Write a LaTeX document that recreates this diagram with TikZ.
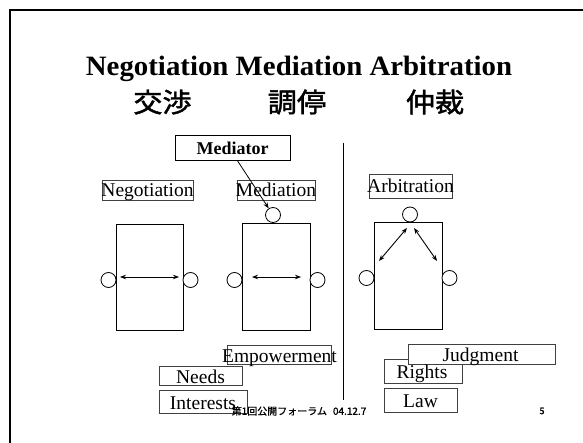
\documentclass[tikz,border=0pt]{standalone}
\usepackage{fontspec}
\setmainfont{Liberation Serif}
\newfontfamily\jp[FakeBold=1.5]{Noto Sans CJK JP}
\newfontfamily\jpb[FakeBold=1.2]{Noto Sans CJK JP}
\usetikzlibrary{arrows.meta}
\tikzset{
  lblbox/.style={draw=black!75, line width=0.6pt, fill=white, inner sep=0pt},
  lbl/.style={anchor=base, inner sep=0pt, font=\fontsize{19.5}{20}\selectfont},
  jtitle/.style={inner sep=0pt, font=\fontsize{27}{28}\selectfont\jp},
  room/.style={draw=black, line width=0.8pt, inner sep=0pt, minimum width=68pt, minimum height=107pt},
  party/.style={draw=black, line width=0.8pt, circle, inner sep=0pt, minimum size=15pt, fill=white},
  dbl/.style={{Stealth[length=6pt,width=4.5pt]}-{Stealth[length=6pt,width=4.5pt]}, line width=0.9pt},
  single/.style={-{Stealth[length=6pt,width=4.5pt]}, line width=0.8pt},
}
\begin{document}
\begin{tikzpicture}[x=1pt,y=-1pt]
\useasboundingbox (0,0) rectangle (583,443);
% frame
\coordinate (fbl) at (10,443);
\coordinate (ftl) at (10,10);
\coordinate (ftr) at (583,10);
\draw[line width=2pt] (fbl) -- (ftl) -- (ftr);
% title
\node[anchor=base, inner sep=0pt, font=\fontsize{28}{30}\selectfont\bfseries] (title) at (299,76)
  {\scalebox{1.03}[1]{Negotiation Mediation Arbitration}};
\node[jtitle] (jneg) at (162.5,102) {\scalebox{1.08}[1]{交渉}};
\node[jtitle] (jmed) at (297,102) {\scalebox{1.08}[1]{調停}};
\node[jtitle] (jarb) at (435,102) {\scalebox{1.08}[1]{仲裁}};
% divider
\coordinate (dtop) at (343,143);
\coordinate (dbot) at (343,400);
\draw[line width=0.7pt] (dtop) -- (dbot);
% rooms
\node[room, minimum height=106pt, minimum width=67pt] (negrect) at (149.5,277) {};
\node[room] (medrect) at (276,276.5) {};
\node[room] (arbrect) at (408,275.5) {};
% parties
\node[party] (n1) at (108.5,280) {};
\node[party] (n2) at (190.5,280) {};
\node[party] (m1) at (234.5,280) {};
\node[party] (m2) at (317.5,280) {};
\node[party] (m3) at (273,215) {};
\node[party] (a1) at (366.5,278) {};
\node[party] (a2) at (449.5,278) {};
\node[party] (a3) at (410,214.5) {};
% arrows
\coordinate (na) at (120,277); \coordinate (nb) at (179,277);
\draw[dbl] (na) -- (nb);
\coordinate (ma) at (252,277); \coordinate (mb) at (301,277);
\draw[dbl] (ma) -- (mb);
\coordinate (aa1) at (407,228); \coordinate (ab1) at (379,261);
\draw[dbl] (aa1) -- (ab1);
\coordinate (aa2) at (414,228); \coordinate (ab2) at (437,261);
\draw[dbl] (aa2) -- (ab2);
% upper labels
\node[lblbox, minimum width=91pt, minimum height=20pt] (bneg) at (147.5,190) {};
\node[lbl] (tneg) at (147.5,197) {Negotiation};
\node[lblbox, minimum width=78pt, minimum height=20pt] (bmed) at (276,190) {};
\node[lbl] (tmed) at (276,197) {Mediation};
\node[lblbox, minimum width=83pt, minimum height=24pt] (barb) at (410.5,186) {};
\node[lbl] (tarb) at (410.5,193) {Arbitration};
% mediator
\node[draw=black, line width=0.8pt, fill=white, inner sep=0pt, minimum width=115pt, minimum height=25pt] (bmtor) at (232.5,147.5) {};
\node[anchor=base, inner sep=0pt, font=\fontsize{18}{20}\selectfont\bfseries] (tmtor) at (232.5,155) {Mediator};
\coordinate (mfrom) at (237,160);
\draw[single] (mfrom) -- (m3);
% lower label boxes
\node[lblbox, minimum width=104pt, minimum height=19pt] (bemp) at (279,354.5) {};
\node[lblbox, minimum width=83pt, minimum height=19pt] (bneeds) at (200.5,375.5) {};
\node[lblbox, minimum width=88pt, minimum height=23pt] (bint) at (203,401.5) {};
\node[lblbox, minimum width=78pt, minimum height=24pt] (brights) at (423,371) {};
\node[lblbox, minimum width=147pt, minimum height=20pt] (bjudg) at (481.5,354) {};
\node[lblbox, minimum width=73pt, minimum height=24pt] (blaw) at (420.5,400) {};
% lower label texts
\node[lbl] (temp) at (279.5,362) {Empowerment};
\node[lbl] (tneeds) at (200.5,383) {Needs};
\node[lbl] (tint) at (203,409) {Interests};
\node[lbl] (trights) at (422,378) {Rights};
\node[lbl] (tjudg) at (480.5,361) {Judgment};
\node[lbl] (tlaw) at (420.5,407) {Law};
% footer
\node[inner sep=0pt, font=\fontsize{10}{11}\selectfont\jpb] (footer) at (299,411) {第1回公開フォーラム\hspace{0.6em}04.12.7};
\node[inner sep=0pt, font=\fontsize{9}{10}\selectfont\jpb] (pageno) at (542,411) {5};
\end{tikzpicture}
\end{document}
